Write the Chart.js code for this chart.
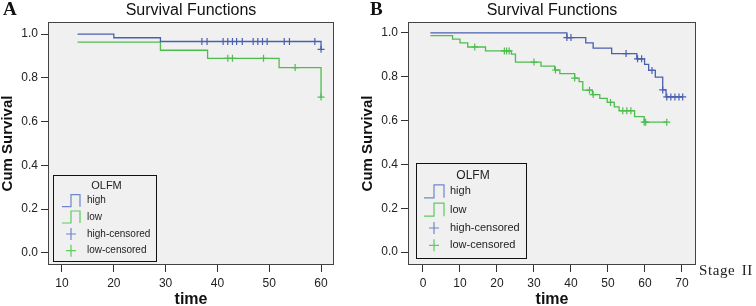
<!DOCTYPE html>
<html>
<head>
<meta charset="utf-8">
<script src="https://cdn.jsdelivr.net/npm/chart.js@4"></script>
<style>
  body { margin: 0; background: #fff; }
  #wrap { position: relative; width: 756px; height: 306px; overflow: hidden; }
  .panel { position: absolute; top: 0; height: 306px; }
  .tag { position: absolute; top: -1px; font-family: 'Liberation Serif', 'Times New Roman', serif; font-weight: bold; font-size: 19px; line-height: 1; color: #111; }
  #stage { position: absolute; left: 699px; top: 263px; white-space: nowrap; font-family: 'Liberation Serif', 'Times New Roman', serif; font-size: 15px; line-height: 1; letter-spacing: 0.6px; word-spacing: 2px; color: #222; }
</style>
</head>
<body>
<div id="wrap">
  <div class="panel" style="left:0;width:382px"><canvas id="chartA" width="382" height="306"></canvas></div>
  <div class="panel" style="left:360px;width:384px"><canvas id="chartB" width="384" height="306"></canvas></div>
  <div class="tag" style="left:3px">A</div>
  <div class="tag" style="left:370px">B</div>
  <div id="stage">Stage II</div>
</div>
<script>
const FONT = "Arial, 'Liberation Sans', sans-serif";
const BLUE = '#4a5fae';
const GREEN = '#4dbe4d';
const BLUE_KEY = '#6f86cb';
const GREEN_KEY = '#5ccc5c';

const chartTitle = 'Survival Functions';
const xTitle = 'time';
const yTitle = 'Cum Survival';
const legendTitle = 'OLFM';
const legendLabels = ['high', 'low', 'high-censored', 'low-censored'];
const yTicks = [0, 0.2, 0.4, 0.6, 0.8, 1.0];

// panel A
const xTicksA = [10, 20, 30, 40, 50, 60];
const highTimesA = [13, 20, 29, 60];
const highSurvA = [1.0, 0.983, 0.966, 0.930];
const highCensA = [37.0, 38.0, 41.1, 42.0, 42.9, 43.7, 44.8, 46.9, 47.8, 48.7, 49.6, 52.9, 53.9, 58.8, 60];
const lowTimesA = [13, 29, 38.1, 51.9, 60];
const lowSurvA = [0.963, 0.926, 0.889, 0.847, 0.712];
const lowCensA = [42.0, 42.9, 48.9, 55.0, 60];

// panel B
const xTicksB = [0, 10, 20, 30, 40, 50, 60, 70];
const highTimesB = [2, 38.9, 44.0, 46.0, 51.0, 57.8, 59.9, 61.0, 62.8, 64.8, 65.7];
const highSurvB = [1.0, 0.979, 0.955, 0.931, 0.906, 0.882, 0.857, 0.829, 0.798, 0.740, 0.708];
const highCensB = [38.9, 40.0, 54.9, 58.0, 59.1, 61.9, 64.8, 65.9, 67.0, 68.1, 69.2, 70.2];
const lowTimesB = [2, 8.0, 10.0, 12.1, 16.9, 23.9, 25.0, 31.9, 35.6, 37.0, 41.0, 42.2, 43.2, 45.8, 47.8, 49.8, 51.7, 53.0, 57.2, 59.8];
const lowSurvB = [0.988, 0.972, 0.955, 0.936, 0.918, 0.903, 0.867, 0.849, 0.831, 0.814, 0.794, 0.778, 0.739, 0.719, 0.701, 0.683, 0.663, 0.645, 0.618, 0.593];
const lowCensB = [14.0, 22.0, 22.6, 23.3, 30.0, 35.8, 41.0, 45.0, 46.0, 50.7, 54.0, 55.1, 56.2, 59.8, 60.2, 65.9];

function survAt(ts, ss, t) {
  let v = ss[0];
  for (let i = 0; i < ts.length; i++) {
    if (t >= ts[i]) v = ss[i];
  }
  return v;
}

function stepPoints(ts, ss, cens) {
  const pts = ts.map((t, i) => ({ x: t, y: ss[i] }));
  const end = Math.max(ts[ts.length - 1], cens[cens.length - 1]);
  if (end > ts[ts.length - 1]) pts.push({ x: end, y: ss[ss.length - 1] });
  return pts;
}

function censPoints(ts, ss, cens) {
  return cens.map(t => ({ x: t, y: survAt(ts, ss, t) }));
}

const framePlugin = {
  id: 'frame',
  beforeDraw(chart) {
    const { ctx, chartArea: a } = chart;
    ctx.save();
    ctx.fillStyle = '#f0f0f0';
    ctx.fillRect(a.left, a.top, a.right - a.left, a.bottom - a.top);
    ctx.restore();
  },
  afterDraw(chart) {
    const { ctx, chartArea: a } = chart;
    const L = chart.options.plugins.frame;
    ctx.save();
    ctx.strokeStyle = '#444';
    ctx.lineWidth = 1;
    ctx.strokeRect(Math.round(a.left) + 0.5, Math.round(a.top) + 0.5, Math.round(a.right - a.left) - 1, Math.round(a.bottom - a.top) - 1);

    // title centred over the plot box
    ctx.fillStyle = '#111';
    ctx.font = '16px ' + FONT;
    ctx.textAlign = 'center';
    ctx.textBaseline = 'alphabetic';
    ctx.fillText(chartTitle, (a.left + a.right) / 2, 14.5);

    // legend box
    const x0 = Math.round(a.left + L.dx), y0 = Math.round(a.bottom - L.dy - L.h);
    ctx.fillStyle = '#f0f0f0';
    ctx.fillRect(x0, y0, L.w, L.h);
    ctx.strokeStyle = '#111';
    ctx.strokeRect(x0 + 0.5, y0 + 0.5, L.w, L.h);
    ctx.fillStyle = '#222';
    ctx.textBaseline = 'middle';
    ctx.font = L.titleSize + 'px ' + FONT;
    ctx.fillText(legendTitle, x0 + L.w / 2 + 2, y0 + L.titleY);
    ctx.textAlign = 'left';
    ctx.font = L.itemSize + 'px ' + FONT;
    legendLabels.forEach((lab, i) => {
      const y = y0 + L.rows[i];
      const col = i % 2 === 0 ? BLUE_KEY : GREEN_KEY;
      const ix0 = x0 + L.ix0, ix1 = x0 + L.ix1, mid = (ix0 + ix1) / 2;
      ctx.strokeStyle = col;
      ctx.lineWidth = 1.2;
      ctx.beginPath();
      if (i < 2) {
        ctx.moveTo(ix0, y + L.ih / 2);
        ctx.lineTo(mid, y + L.ih / 2);
        ctx.lineTo(mid, y - L.ih / 2);
        ctx.lineTo(ix1, y - L.ih / 2);
        ctx.lineTo(ix1, y + L.ih / 2);
      } else {
        ctx.moveTo(mid - 5, y);
        ctx.lineTo(mid + 5, y);
        ctx.moveTo(mid, y - 6);
        ctx.lineTo(mid, y + 6);
      }
      ctx.stroke();
      ctx.fillStyle = '#222';
      ctx.fillText(lab, x0 + L.textX, y);
    });
    ctx.restore();
  }
};

function kmChart(id, p) {
  const tickFont = { family: FONT, size: 12 };
  new Chart(document.getElementById(id), {
    type: 'line',
    data: {
      datasets: [
        { data: stepPoints(p.hiT, p.hiS, p.hiC), borderColor: BLUE, borderWidth: 1.3, stepped: 'before', pointRadius: 0 },
        { data: stepPoints(p.loT, p.loS, p.loC), borderColor: GREEN, borderWidth: 1.3, stepped: 'before', pointRadius: 0 },
        { data: censPoints(p.hiT, p.hiS, p.hiC), showLine: false, pointStyle: 'cross', pointRadius: 3.5, pointBorderColor: BLUE, pointBorderWidth: 1.2 },
        { data: censPoints(p.loT, p.loS, p.loC), showLine: false, pointStyle: 'cross', pointRadius: 3.5, pointBorderColor: GREEN, pointBorderWidth: 1.2 }
      ]
    },
    options: {
      responsive: false,
      animation: false,
      events: [],
      layout: { padding: { left: 0, right: 48, top: 22, bottom: 0 } },
      scales: {
        x: {
          type: 'linear', min: p.xMin, max: p.xMax,
          afterFit: s => { s.height = 41; },
          afterBuildTicks: s => { s.ticks = p.xTicks.map(v => ({ value: v })); },
          grid: { drawOnChartArea: false, drawTicks: true, tickLength: 7, color: '#333' },
          border: { display: false },
          ticks: { padding: 4, font: tickFont, color: '#222', maxRotation: 0, callback: v => v },
          title: { display: true, text: xTitle, color: '#111', font: { family: FONT, size: 16, weight: 'bold', lineHeight: 0.75 }, padding: 0 }
        },
        y: {
          min: p.yMin, max: p.yMax,
          afterFit: s => { s.width = 48; },
          afterBuildTicks: s => { s.ticks = yTicks.map(v => ({ value: v })); },
          grid: { drawOnChartArea: false, drawTicks: true, tickLength: 7, color: '#333' },
          border: { display: false },
          ticks: { padding: 3, font: tickFont, color: '#222', callback: v => v.toFixed(1) },
          title: { display: true, text: yTitle, color: '#111', font: { family: FONT, size: 15, weight: 'bold', lineHeight: 1 }, padding: { top: 0.5, bottom: 0 } }
        }
      },
      plugins: {
        legend: { display: false },
        tooltip: { enabled: false },
        frame: p.legend
      }
    },
    plugins: [framePlugin]
  });
}

kmChart('chartA', {
  hiT: highTimesA, hiS: highSurvA, hiC: highCensA,
  loT: lowTimesA, loS: lowSurvA, loC: lowCensA,
  xTicks: xTicksA, xMin: 7.3, xMax: 62.5, yMin: -0.055, yMax: 1.055,
  legend: { dx: 5, dy: 4, w: 103, h: 86, titleSize: 11, titleY: 11, itemSize: 10, rows: [25.7, 42, 59, 75.7], ix0: 9, ix1: 27, ih: 12, textX: 34 }
});

kmChart('chartB', {
  hiT: highTimesB, hiS: highSurvB, hiC: highCensB,
  loT: lowTimesB, loS: lowSurvB, loC: lowCensB,
  xTicks: xTicksB, xMin: -4.05, xMax: 73.8, yMin: -0.059, yMax: 1.05,
  legend: { dx: 8, dy: 7, w: 110, h: 95, titleSize: 12, titleY: 12.7, itemSize: 11, rows: [28.3, 46.7, 65, 82.3], ix0: 8, ix1: 28, ih: 13, textX: 34 }
});
</script>
</body>
</html>
